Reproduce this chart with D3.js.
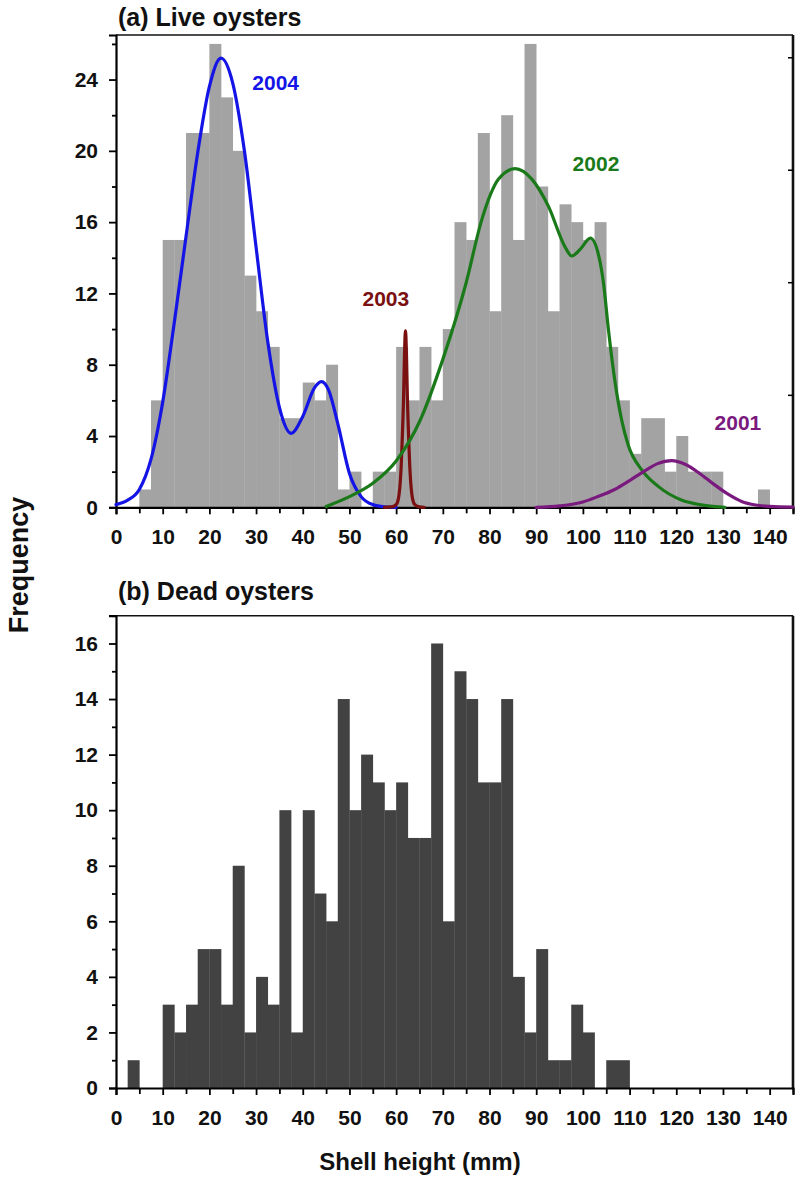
<!DOCTYPE html>
<html><head><meta charset="utf-8">
<script src="https://cdn.jsdelivr.net/npm/d3@7"></script>
<style>
body{margin:0;background:#fff}
text{font-family:"Liberation Sans",Arial,Helvetica,sans-serif;font-weight:bold}
</style>
</head><body>
<svg id="chart" width="800" height="1185"></svg>
<script>
// ---------- data ----------
const binWidth = 2.5; // mm, first bin starts at 0
// (a) Live oysters: counts per 2.5 mm bin starting at 0 mm
const liveCounts = [0,0,1,6,15,15,21,21,26,23,20,13,11,9,5,5,7,6,8,1,2,0,2,2,
  9,6,9,6,10,16,15,21,11,22,15,26,18,11,17,16,15,16,9,6,3,5,5,2,4,2,2,2,0,0,0,1,0,0];
// (b) Dead oysters
const deadCounts = [0,1,0,0,3,2,3,5,5,3,8,2,4,3,10,2,10,7,6,14,10,12,11,10,11,9,9,16,
  6,15,14,11,11,14,4,2,5,1,1,3,2,0,1,1,0,0,0,0,0,0,0,0,0,0,0,0,0,0];

// cohort curves: [shell height mm, frequency]
const curve2004 = [[0,0.15],[2.5,0.4],[5,1.0],[7.5,2.7],[10,5.9],[12.5,10.4],[15,15.2],[17.5,19.9],
  [20,23.6],[22.5,25.2],[25,23.8],[27.5,20.0],[30,14.6],[32.5,9.3],[35,5.6],[37.5,4.15],[40,5.1],
  [42.5,6.7],[44,7.05],[45.5,6.6],[47.5,4.7],[50,1.9],[52.5,0.6],[55,0.15],[57.5,0.03],[60,0]];
const curve2003 = [[57.5,0],[59,0.02],[60,0.15],[60.5,0.5],[61,1.9],[61.5,5.3],[62,9.9],
  [62.5,5.3],[63,1.9],[63.5,0.5],[64,0.15],[65,0.02],[66,0]];
const curve2002 = [[45,0.05],[50,0.6],[55,1.35],[60,2.6],[65,4.8],[70,8.3],[75,12.6],[78.3,16.1],
  [81.9,18.4],[85.5,19.0],[89.1,18.4],[92.6,16.9],[96.2,14.6],[97.6,14.1],[99.5,14.5],[101.6,15.1],
  [103.4,14.1],[104.4,12.6],[105.5,9.9],[106.9,7.0],[108.3,4.9],[109.7,3.5],[112.6,2.1],
  [116.2,1.16],[121.1,0.41],[125,0.15],[128.3,0.04],[130.4,0]];
const curve2001 = [[90,0],[95,0.08],[100,0.3],[103.2,0.6],[106.8,1.0],[110,1.5],[113,2.0],
  [116,2.45],[119,2.62],[122,2.4],[125,1.9],[128,1.3],[131,0.75],[134,0.33],[137,0.13],
  [140,0.05],[145,0.01]];
const cohorts = [
  {year:"2004", color:"#1414e6", points:curve2004, label:[29.2,23.4]},
  {year:"2003", color:"#7a1010", points:curve2003, label:[52.8,11.3]},
  {year:"2002", color:"#1a7a1a", points:curve2002, label:[97.8,18.85]},
  {year:"2001", color:"#7a1a7e", points:curve2001, label:[128.2,4.35]}
];

const xMajorTicks = [0,10,20,30,40,50,60,70,80,90,100,110,120,130,140];
const xMinorTicks = [5,15,25,35,45,55,65,75,85,95,105,115,125,135,145];
const yMajorA = [0,4,8,12,16,20,24];
const yMinorA = [2,6,10,14,18,22,26];
const yRightA = [6.31,12.63,18.94,25.25];
const yMajorB = [0,2,4,6,8,10,12,14,16];
const yMinorB = [1,3,5,7,9,11,13,15,17];

// ---------- layout ----------
const svg = d3.select("#chart");
const L = 116, R = 793;
const panels = [
  {top:35, bottom:507.3, ymax:26.5, counts:liveCounts, fill:"#a3a3a3", title:"(a) Live oysters", titleY:26,
   yMajor:yMajorA, yMinor:yMinorA},
  {top:615.7, bottom:1088, ymax:17, counts:deadCounts, fill:"#424242", title:"(b) Dead oysters", titleY:600,
   yMajor:yMajorB, yMinor:yMinorB}
];

const x = d3.scaleLinear().domain([0,145]).range([L,R]);

panels.forEach((p,pi)=>{
  const y = d3.scaleLinear().domain([0,p.ymax]).range([p.bottom,p.top]);
  p.y = y;
  const g = svg.append("g");
  // bars
  g.selectAll("rect.bar").data(p.counts).join("rect")
    .attr("class","bar")
    .attr("x",(d,i)=>x(i*binWidth))
    .attr("width",x(binWidth)-x(0)+0.3)
    .attr("y",d=>y(d))
    .attr("height",d=>y(0)-y(d))
    .attr("fill",p.fill);

  // frame top & right
  g.append("line").attr("x1",L).attr("x2",R).attr("y1",p.top).attr("y2",p.top)
    .attr("stroke","#111").attr("stroke-width",1.6);
  g.append("line").attr("x1",R).attr("x2",R).attr("y1",p.top).attr("y2",p.bottom)
    .attr("stroke","#111").attr("stroke-width",2.6);

  // left axis
  g.append("g").attr("transform",`translate(${L},0)`)
    .call(d3.axisLeft(y).tickValues(p.yMajor).tickSize(7).tickPadding(11).tickFormat(d3.format("d")));
  g.append("g").attr("transform",`translate(${L},0)`)
    .call(d3.axisLeft(y).tickValues(p.yMinor).tickSize(4).tickFormat(""))
    .select(".domain").remove();
  // bottom axis
  g.append("g").attr("transform",`translate(0,${p.bottom})`)
    .call(d3.axisBottom(x).tickValues(xMajorTicks).tickSize(7).tickPadding(15).tickFormat(d3.format("d")));
  g.append("g").attr("transform",`translate(0,${p.bottom})`)
    .call(d3.axisBottom(x).tickValues(xMinorTicks).tickSize(6).tickFormat(""))
    .select(".domain").remove();

  g.selectAll(".domain").attr("stroke","#000").attr("stroke-width",2.2);
  g.selectAll(".tick line").attr("stroke","#000").attr("stroke-width",1.8);
  g.selectAll(".tick text").attr("font-size",21).attr("fill","#111")
    .style("font-family","'Liberation Sans',Arial,sans-serif").style("font-weight","bold");

  // title
  svg.append("text").attr("x",L+2).attr("y",p.titleY).attr("font-size",25).attr("fill","#111").text(p.title);
});

// right-hand inward ticks on panel (a)
const pa = panels[0];
svg.append("g").attr("transform",`translate(${R},0)`)
  .call(d3.axisRight(pa.y).tickValues(yRightA).tickSize(-5).tickFormat(""))
  .call(g=>g.select(".domain").remove())
  .selectAll(".tick line").attr("stroke","#000").attr("stroke-width",1.5);

// curves
const line = d3.line().x(d=>x(d[0])).y(d=>pa.y(d[1])).curve(d3.curveMonotoneX);
cohorts.forEach(c=>{
  svg.append("path").datum(c.points).attr("d",line)
    .attr("fill","none").attr("stroke",c.color).attr("stroke-width",3.2)
    .attr("stroke-linejoin","round").attr("stroke-linecap","round");
  svg.append("text").attr("x",x(c.label[0])).attr("y",pa.y(c.label[1]))
    .attr("fill",c.color).attr("font-size",21).text(c.year);
});

// axis titles
svg.append("text").attr("x",420).attr("y",1170).attr("text-anchor","middle")
  .attr("font-size",24).attr("fill","#111").text("Shell height (mm)");
svg.append("text").attr("transform","translate(28,565) rotate(-90)").attr("text-anchor","middle")
  .attr("font-size",27).attr("fill","#111").text("Frequency");
</script>
</body></html>
